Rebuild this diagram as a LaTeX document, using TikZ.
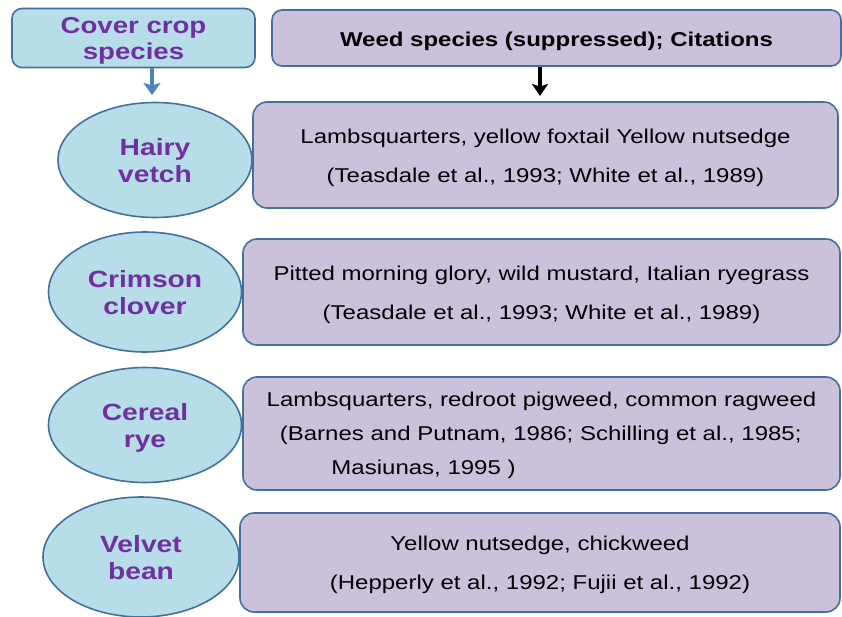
\documentclass[tikz,border=0pt]{standalone}
\usepackage{fontspec}
\setmainfont{Liberation Sans}
\usetikzlibrary{shapes.geometric,arrows.meta}
\definecolor{ellfill}{HTML}{B7DEE8}
\definecolor{boxfill}{HTML}{CCC1DA}
\definecolor{edgecol}{HTML}{41719C}
\definecolor{purp}{HTML}{7030A0}
\definecolor{arrblue}{HTML}{4F81BD}
\newcommand{\sx}[1]{\scalebox{1.2}[1]{#1}}
\newcommand{\lowerby}[2]{\raisebox{0pt}[\dimexpr\height+#1\relax][\depth]{#2}}
\begin{document}
\begin{tikzpicture}[x=1pt,y=-1pt,
  crop/.style={ellipse, draw=edgecol, line width=1.6pt, fill=ellfill, inner sep=0pt,
    text=purp, font=\fontsize{23.5}{27}\selectfont\bfseries},
  weed/.style={rectangle, rounded corners=14pt, draw=edgecol, line width=1.6pt,
    fill=boxfill, inner sep=0pt, font=\fontsize{20}{39}\selectfont},
  headl/.style={rectangle, rounded corners=10pt, draw=edgecol, line width=1.6pt,
    fill=ellfill, inner sep=0pt, text=purp, font=\fontsize{23}{26}\selectfont\bfseries},
  headr/.style={rectangle, rounded corners=10pt, draw=edgecol, line width=1.6pt,
    fill=boxfill, inner sep=0pt, font=\fontsize{20}{24}\selectfont\bfseries},
  bluearr/.style={draw=arrblue, line width=4.5pt, -{Stealth[width=17pt,length=12pt,inset=2.5pt]}},
  blackarr/.style={draw=black, line width=4pt, -{Stealth[width=16pt,length=12pt,inset=2.5pt]}},
]
\useasboundingbox (0,0) rectangle (842,617);

% headers
\node[headl, minimum width=243pt, minimum height=56pt] (lh) at (133.5,38)
  {\lowerby{7pt}{\sx{\begin{tabular}{@{}c@{}}Cover crop\\species\end{tabular}}}};
\node[headr, minimum width=569pt, minimum height=56pt] (rh) at (556.5,38)
  {\lowerby{7pt}{\sx{Weed species (suppressed); Citations}}};

% ellipses
\node[crop, minimum width=194pt, minimum height=115pt] (hv) at (155,160)
  {\lowerby{8pt}{\sx{\begin{tabular}{@{}c@{}}Hairy\\vetch\end{tabular}}}};
\node[crop, minimum width=193pt, minimum height=120pt] (cc) at (145,292)
  {\lowerby{8pt}{\sx{\begin{tabular}{@{}c@{}}Crimson\\clover\end{tabular}}}};
\node[crop, minimum width=193pt, minimum height=115pt] (cr) at (145,425)
  {\lowerby{8pt}{\sx{\begin{tabular}{@{}c@{}}Cereal\\rye\end{tabular}}}};
\node[crop, minimum width=196pt, minimum height=120pt] (vb) at (141,557)
  {\lowerby{8pt}{\sx{\begin{tabular}{@{}c@{}}Velvet\\bean\end{tabular}}}};

% boxes
\node[weed, minimum width=585pt, minimum height=106pt] (b1) at (545.5,155)
  {\sx{\begin{tabular}{@{}c@{}}Lambsquarters, yellow foxtail Yellow nutsedge\\(Teasdale et al., 1993; White et al., 1989)\end{tabular}}};
\node[weed, minimum width=597pt, minimum height=106pt] (b2) at (541.5,292)
  {\sx{\begin{tabular}{@{}c@{}}Pitted morning glory, wild mustard, Italian ryegrass\\(Teasdale et al., 1993; White et al., 1989)\end{tabular}}};
\node[weed, minimum width=597pt, minimum height=113pt, font=\fontsize{20}{34}\selectfont] (b3) at (541.5,433.5)
  {\sx{\begin{tabular}{@{}l@{}}Lambsquarters, redroot pigweed, common ragweed\\\hspace*{11pt}(Barnes and Putnam, 1986; Schilling et al., 1985;\\\hspace*{54pt}Masiunas, 1995 )\end{tabular}}};
\node[weed, minimum width=600pt, minimum height=99pt] (b4) at (540,562.5)
  {\raisebox{7pt}{\sx{\begin{tabular}{@{}c@{}}Yellow nutsedge, chickweed\\(Hepperly et al., 1992; Fujii et al., 1992)\end{tabular}}}};

% arrows
\coordinate (ba) at (152,95);
\coordinate (ka) at (540,96);
\draw[bluearr] (lh.south -| ba) -- (ba);
\draw[blackarr] (rh.south -| ka) -- (ka);
\end{tikzpicture}
\end{document}
